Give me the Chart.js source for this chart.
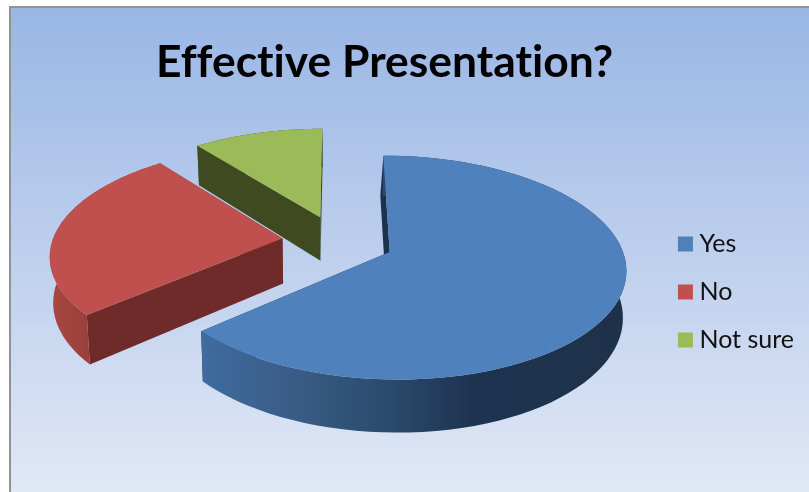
<!DOCTYPE html>
<html>
<head>
<meta charset="utf-8">
<title>Effective Presentation?</title>
<script src="https://cdn.jsdelivr.net/npm/chart.js@4"></script>
<style>
  html, body { margin: 0; padding: 0; background: #fff; overflow: hidden; }
  #frame {
    position: absolute; left: 9px; top: 6px; right: 0; bottom: 0;
    border-left: 2px solid #929292; border-top: 2px solid #929292;
    background: linear-gradient(#99b6e5, #e1e8f5);
  }
  #chart { position: absolute; left: 0; top: 0; }
</style>
</head>
<body>
<div id="frame"></div>
<canvas id="chart" width="809" height="492"></canvas>
<script>
const titleText = "Effective Presentation?";
const categories = ["Yes", "No", "Not sure"];
const shares = [63.6, 25.8, 10.6];
const sliceColors = ["#4f81bd", "#c0504d", "#9bbb59"];

// side walls, one set per slice
const edgeColors = ["#1c324c", "#6e2b29", "#3f4a20"];
const arcWallStops = [
    [[203, "#3f6b9f"], [290, "#3a5d87"], [390, "#2a4a6c"], [473, "#1e3350"], [627, "#1d3249"]],
    [[50, "#aa4743"], [90, "#983f3b"]],
    [[196, "#3f4a20"], [322, "#3f4a20"]]
];

// fake 3D view of the flat pie
const view = { cx: 338, cy: 241, squash: 0.464, persp: 0.0006, depth: 45, lean: 0.012 };

function project(X, Y, Z) {
    const w = 1 / (1 - view.persp * Y);
    const x = view.cx + X * w * (1 - view.lean * Z / view.depth);
    const y = view.cy + view.squash * Y * w + Z * w;
    return [x, y];
}

function fillPoly(ctx, pts, fill) {
    ctx.beginPath();
    pts.forEach((p, i) => i ? ctx.lineTo(p[0], p[1]) : ctx.moveTo(p[0], p[1]));
    ctx.closePath();
    ctx.fillStyle = fill;
    ctx.fill();
}

function drawSlice(ctx, arc, i) {
    const mid = (arc.startAngle + arc.endAngle) / 2;
    const push = arc.options.offset / 4;
    const ox = Math.cos(mid) * push;
    const oy = Math.sin(mid) * push;
    const r = arc.outerRadius;
    const steps = 80;

    const rim = (Z) => {
        const pts = [];
        for (let s = 0; s <= steps; s++) {
            const a = arc.startAngle + (arc.endAngle - arc.startAngle) * s / steps;
            pts.push(project(ox + r * Math.cos(a), oy + r * Math.sin(a), Z));
        }
        return pts;
    };
    const top = rim(0);
    const bottom = rim(view.depth);
    const hubTop = project(ox, oy, 0);
    const hubBottom = project(ox, oy, view.depth);

    // the blue slice shows a sliver of its back wall
    const sliver = i === 0 ? 2.5 : 0;
    const shift = (p) => [p[0] - sliver, p[1]];
    fillPoly(ctx, [hubTop, top[0], shift(bottom[0]), shift(hubBottom)], edgeColors[i]);
    fillPoly(ctx, [hubTop, top[steps], bottom[steps], hubBottom], edgeColors[i]);

    const stops = arcWallStops[i];
    const x0 = stops[0][0];
    const x1 = stops[stops.length - 1][0];
    const grad = ctx.createLinearGradient(x0, 0, x1, 0);
    stops.forEach(st => grad.addColorStop((st[0] - x0) / (x1 - x0), st[1]));
    fillPoly(ctx, top.concat(bottom.slice().reverse()), grad);

    fillPoly(ctx, [hubTop].concat(top), arc.options.backgroundColor);
}

const pie3d = {
    id: "pie3d",
    beforeDraw(chart) {
        // no ligatures in the title
        chart.ctx.textRendering = "optimizeSpeed";
    },
    beforeDatasetsDraw(chart) {
        const arcs = chart.getDatasetMeta(0).data;
        const ctx = chart.ctx;
        ctx.save();
        for (let i = arcs.length - 1; i >= 0; i--) drawSlice(ctx, arcs[i], i);
        ctx.restore();
        return false;
    }
};

new Chart(document.getElementById("chart"), {
    type: "pie",
    data: {
        labels: categories,
        datasets: [{
            data: shares,
            backgroundColor: sliceColors,
            borderWidth: 0,
            offset: 224
        }]
    },
    options: {
        responsive: false,
        animation: false,
        radius: 230,
        layout: { padding: { left: 156, right: 5, top: 36, bottom: -56 } },
        plugins: {
            tooltip: { enabled: false },
            title: {
                display: true,
                text: titleText,
                align: "start",
                color: "#000",
                font: { family: "Lato", size: 44.4, weight: "bold" },
                padding: { top: 0, bottom: 10 }
            },
            legend: {
                position: "right",
                labels: {
                    color: "#111",
                    font: { family: "Lato", size: 25 },
                    boxWidth: 3,
                    boxHeight: 3,
                    padding: 23,
                    generateLabels(chart) {
                        const items = Chart.overrides.doughnut.plugins.legend.labels.generateLabels(chart);
                        items.forEach(it => { it.strokeStyle = it.fillStyle; it.lineWidth = 12; });
                        return items;
                    }
                }
            }
        }
    },
    plugins: [pie3d]
});
</script>
</body>
</html>
